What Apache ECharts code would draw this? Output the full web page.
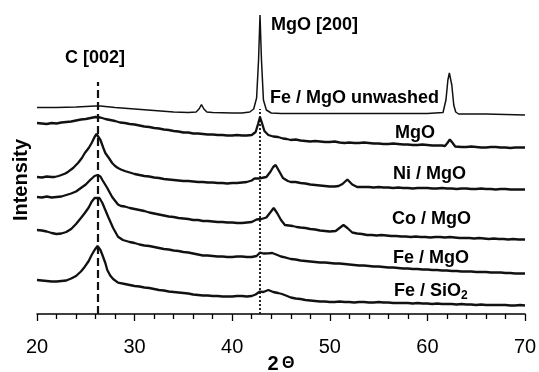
<!DOCTYPE html>
<html>
<head>
<meta charset="utf-8">
<script src="https://cdn.jsdelivr.net/npm/echarts@6/dist/echarts.min.js"></script>
<style>
html,body{margin:0;padding:0;background:#fff;}
#chart{width:539px;height:372px;}
</style>
</head>
<body>
<div id="chart"></div>
<script>
// X-ray diffraction patterns, 2θ (deg) vs stacked intensity (arbitrary units, offset)
const xTicks = [20, 30, 40, 50, 60, 70];
const seriesNames = ["Fe / MgO unwashed", "MgO", "Ni / MgO", "Co / MgO", "Fe / MgO", "Fe / SiO2"];
const refLines = { "C [002]": 26.2, "MgO [200]": 42.85 };

const feMgoUnwashed = [
  [20,206.5],[22,206.5],[24,207],[25,207.5],[26,208],[26.5,208],[27,207.5],[28,206.5],[30,205],
  [32,203.5],[34,202],[35.5,201.5],[36.3,202],[36.6,205],[36.85,209.3],[37.1,205],[37.4,202],
  [38,201.5],[40,201],[41,201],[41.8,202],[42.2,205],[42.5,216],[42.7,254],[42.85,299],[43.0,254],
  [43.2,214],[43.5,204],[44,201],[45,200.5],[50,200.5],[55,200.5],[60,200.5],[61.6,201.5],
  [61.9,214],[62.1,234],[62.25,241],[62.35,239],[62.5,229],[62.7,209],[62.9,202],[63.2,200],
  [66,200],[70,199]
];

const mgo = [
  [20,191],[20.5,190.5],[21,190],[21.5,191],[22,190.5],[22.5,191.5],[23,192],[23.5,192.5],[24,193.5],
  [24.5,194.5],[25,195],[25.5,196],[26,197],[26.5,196.5],[27,195],[27.5,194],[28,193],[28.5,191.5],
  [29,191],[29.5,190],[30,189.5],[30.5,188.5],[31,187.5],[31.5,187],[32,186],[32.5,185.5],[33,184.5],
  [33.5,184],[34,183],[34.5,182.5],[35,181.5],[35.5,181.5],[36,180.5],[36.5,180.5],[37,180],
  [37.5,179.5],[38,179.5],[38.5,179],[39,179],[39.5,178.5],[40,178.5],[40.5,179],[41,178.5],
  [41.5,178.5],[42,179],[42.4,182],[42.65,190],[42.85,197],[43.05,191],[43.3,183],[43.7,179],
  [44.2,177.5],[44.7,177],[45.2,175.5],[45.6,175],[46,174],[46.5,174.5],[47,173.5],[47.5,173],
  [48,172.5],[48.5,173],[49,172.5],[49.5,172],[50,172],[50.5,172.5],[51,171.5],[51.5,171],
  [52,171.5],[52.5,171],[53,171],[53.5,171.5],[54,171],[54.5,170.5],[55,170.5],[55.5,170],[56,170],
  [56.5,170.5],[57,170],[57.5,169.5],[58,169.5],[58.5,169],[59,169],[59.5,169.5],[60,169],
  [60.5,168.5],[61,168.5],[61.5,168.5],[61.8,168],[62.05,171],[62.3,174.5],[62.55,171.5],
  [62.85,167.5],[63.5,167],[64,167],[64.5,167.5],[65,167],[65.5,166.5],[66,166.5],[66.5,167],
  [67,167],[67.5,166.5],[68,166.5],[68.5,166],[69,166.5],[69.5,166.5],[70,166.5]
];

const niMgo = [
  [20,137],[20.5,136.5],[21,137.5],[21.5,137],[21.8,137],[22.2,138],[22.5,139],[22.9,140.5],
  [23.2,142.3],[23.7,146],[24.2,151],[24.6,156],[24.9,161],[25.3,166],[25.6,171],[25.9,177],
  [26.1,180],[26.3,178],[26.5,174],[26.8,166],[27,161],[27.4,155.5],[27.7,151],[28,148],[28.3,146],
  [28.6,144.5],[29,143],[29.5,141.5],[30,140],[30.5,139],[31,138],[31.5,137.5],[32,136.5],[32.5,136],
  [33,135],[33.5,134.5],[34,134],[34.5,133.5],[35,133],[35.5,133],[36,132.5],[36.5,132],[37,132],
  [37.5,131.5],[38,131.5],[38.5,131],[39,131],[39.5,130.5],[40,131],[40.5,131],[41,131.5],
  [41.5,132],[42,133.5],[42.3,135.7],[42.7,135.5],[43,136],[43.5,137],[43.9,142],[44.2,147],
  [44.45,149],[44.8,143],[45.2,136],[45.7,133],[46,132],[46.5,132],[47,131],[47.5,130.5],[48,129.5],
  [48.5,129],[49,128.5],[49.5,128],[50,127.5],[50.5,127.5],[50.9,128],[51.3,130],[51.8,134.5],
  [52.3,129.5],[52.8,127],[53.5,127],[54,127],[54.5,126.5],[55,127],[55.5,126.5],[56,126.5],
  [56.5,126],[57,126.5],[57.5,126],[58,126],[58.5,125.5],[59,126],[59.5,126],[60,126],[60.5,125.5],
  [61,125.5],[61.5,126],[62,125.5],[62.5,125.5],[63,125],[63.5,125.5],[64,125.5],[64.5,125],
  [65,125],[65.5,125.5],[66,125],[66.5,125],[67,124.5],[67.5,125],[68,125],[68.5,124.5],[69,124.5],
  [69.5,124.5],[70,124.5]
];

const coMgo = [
  [20,117],[20.5,116.5],[21,117.5],[21.5,116.5],[22,117],[22.5,117.5],[23,119],[23.5,120.5],
  [24,122.5],[24.5,126],[25,129.5],[25.5,134.5],[25.9,138],[26.2,139],[26.5,137.5],[26.7,134],
  [27.2,126],[27.7,117],[28.3,109.5],[28.6,108],[29,107.5],[29.5,106],[30,105],[30.5,104],[31,103],
  [31.5,101.5],[32,100.5],[32.5,99.5],[33,98.5],[33.5,97.5],[34,97],[34.5,96],[35,95.5],[35.5,95],
  [36,94],[36.5,94],[37,93],[37.5,93],[38,92.5],[38.5,92],[39,92],[39.5,91.5],[40,91.5],[40.5,91],
  [41,91],[41.5,91.5],[42,92],[42.5,94.5],[43,95],[43.5,96.5],[43.9,101.5],[44.25,106],[44.6,101],
  [45,94],[45.4,89],[45.8,88.5],[46.2,88],[46.6,87],[47,86.5],[47.5,86],[48,85],[48.5,84.5],
  [49,83.5],[49.5,83],[50,82.5],[50.6,83],[51.0,86],[51.4,89],[51.8,86],[52.3,81.5],[52.8,80.5],
  [53.3,80],[53.8,79],[54.3,79],[54.8,78.5],[55.3,79],[55.8,78.5],[56.3,78],[56.8,78],[57.3,77.5],
  [57.8,77.5],[58.3,77],[58.8,77.5],[59.3,77],[59.8,77],[60.3,76.5],[60.8,77],[61.3,77],[61.8,76.5],
  [62.3,77],[62.8,76.5],[63.3,76],[63.8,76],[64.3,76],[64.8,75.5],[65.3,76],[65.8,75.5],[66.3,75],
  [66.8,75.5],[67.3,75],[67.8,75],[68.3,74.5],[68.8,75],[69.3,74.5],[69.8,74.5],[70,74.5]
];

const feMgo = [
  [20,84],[20.5,83.5],[21,82.5],[21.5,81],[22,80],[22.5,80.5],[23,82],[23.5,85],[24,90],[24.5,96],
  [24.9,101],[25.3,106.5],[25.6,112.3],[25.9,116],[26.1,118],[26.4,116],[26.7,111],[27,104],
  [27.3,97],[27.8,86],[28.3,77.3],[28.8,74],[29.5,72],[30,71],[30.5,69.5],[31,68.5],[31.5,68],
  [32,67],[32.5,66],[33,65],[33.5,64.5],[34,63.5],[34.5,63],[35,62],[35.5,61.5],[36,60.5],
  [36.5,59.5],[37,58.5],[37.5,58.5],[38,58],[38.5,57.5],[39,57.5],[39.5,57],[40,57],[40.5,57.5],
  [41,57.5],[41.5,57],[42,57],[42.5,58],[42.85,61.3],[43.2,60.5],[43.7,60.7],[44.1,61],[44.5,59.5],
  [45,57.5],[45.4,56.7],[46,55],[46.5,54.5],[47,53.5],[47.5,53],[48,52.5],[48.5,52],[49,51.5],
  [49.5,51.5],[50,51],[50.5,50.5],[51,50.5],[51.5,50],[52,49.5],[52.5,49],[53,48.5],[53.5,48.5],
  [54,48],[54.5,47.5],[55,47.5],[55.5,47],[56,46.5],[56.5,46.5],[57,46],[57.5,45.5],[58,45.5],
  [58.5,45],[59,45],[59.5,44.5],[60,44.5],[60.5,44],[61,44],[61.5,43.5],[62,43.5],[62.5,43],
  [63,43],[63.5,42.5],[64,42.5],[64.5,42.5],[65,42],[65.5,42],[66,42],[66.5,41.5],[67,41.5],
  [67.5,41.5],[68,41],[68.5,41],[69,40.5],[69.5,40.5],[70,40.5]
];

const feSiO2 = [
  [20,34],[20.5,33.5],[21,33],[21.5,32.5],[22,32.5],[22.5,33],[23,33.5],[23.5,35.5],[24,38],
  [24.5,42.5],[24.9,47.3],[25.3,53],[25.6,59],[25.9,64],[26.2,68],[26.5,64],[26.7,59],[27,51],
  [27.2,44],[27.5,38.5],[27.8,35],[28.3,31.3],[29,30],[29.5,29],[30,28],[30.5,27.5],[31,26.5],
  [31.5,26],[32,25],[32.5,24],[33,23.5],[33.5,22.5],[34,22],[34.5,21.5],[35,21],[35.5,20.5],
  [36,19.5],[36.5,19],[37,18.5],[37.5,18.5],[38,18],[38.5,18],[39,17.5],[39.5,17.5],[40,17.5],
  [40.5,18],[41,18],[41.5,17.5],[42,18],[42.4,19.5],[42.8,22.3],[43.2,22],[43.7,24],[44.2,22],
  [44.7,21],[45.1,20],[45.5,18.5],[46,16.5],[46.5,15.5],[47,15],[47.5,14],[48,13.5],[48.5,13],
  [49,12.5],[49.5,12.5],[50,12],[50.5,12],[51,12.5],[51.5,12],[52,12],[52.5,11.5],[53,12],
  [53.5,12],[54,11.5],[54.5,11.5],[55,12],[55.5,11.5],[56,11.5],[56.5,11],[57,11],[57.5,11],
  [58,11],[58.5,10.5],[59,11],[59.5,10.5],[60,10.5],[60.5,10],[61,10.5],[61.5,10],[62,10],
  [62.5,10],[63,9.5],[63.5,10],[64,9.5],[64.5,9.5],[65,9],[65.5,9.5],[66,9],[66.5,9],[67,9],
  [67.5,9],[68,9],[68.5,8.5],[69,8.5],[69.5,9],[70,8.5]
];

const chart = echarts.init(document.getElementById('chart'), null, {renderer: 'canvas'});
const FONT = 'Liberation Sans, Arial, sans-serif';
const INK = '#111';

function line(name, data, width) {
  return {
    name: name, type: 'line', data: data, showSymbol: false, symbol: 'none',
    lineStyle: {color: INK, width: width}, animation: false, silent: true, z: 3
  };
}

const s = [
  line(seriesNames[0], feMgoUnwashed, 1.5),
  line(seriesNames[1], mgo, 2.3),
  line(seriesNames[2], niMgo, 2.3),
  line(seriesNames[3], coMgo, 2.3),
  line(seriesNames[4], feMgo, 2.3),
  line(seriesNames[5], feSiO2, 2.3)
];
s[0].markLine = {
  silent: true, symbol: ['none', 'none'], label: {show: false}, animation: false,
  data: [
    [{coord: [refLines["C [002]"], 0], lineStyle: {type: [8, 4], width: 2.2, color: INK}},
     {coord: [refLines["C [002]"], 232]}],
    [{coord: [refLines["MgO [200]"], 0], lineStyle: {type: [2, 2], width: 1.8, color: INK}},
     {coord: [refLines["MgO [200]"], 205]}]
  ]
};

const labelStyle = {fontFamily: FONT, fontWeight: 'bold', fontSize: 18, fill: '#000'};
function txt(text, x, y, extra) {
  return {type: 'text', x: x, y: y, style: Object.assign({text: text, textVerticalAlign: 'middle'}, labelStyle, extra || {})};
}

chart.setOption({
  animation: false,
  grid: {left: 37, right: 14, top: 0, bottom: 58, containLabel: false, outerBoundsMode: 'none'},
  xAxis: {
    type: 'value', min: xTicks[0], max: xTicks[xTicks.length - 1], interval: 10,
    axisLine: {lineStyle: {color: '#000', width: 1.5}},
    axisTick: {show: true, length: 7, lineStyle: {color: '#000', width: 1.3}},
    minorTick: {show: true, splitNumber: 5, length: 5, lineStyle: {color: '#000', width: 1.3}},
    splitLine: {show: false},
    axisLabel: {color: '#000', fontSize: 20, fontFamily: FONT, margin: 23}
  },
  yAxis: {
    type: 'value', min: 0, max: 314, show: false
  },
  series: s,
  graphic: [
    txt('C [002]', 65, 58),
    txt('MgO [200]', 271, 25),
    txt(seriesNames[0], 270, 98),
    txt('MgO', 395, 133),
    txt('Ni / MgO', 393, 174),
    txt('Co / MgO', 392, 219),
    txt('Fe / MgO', 393, 258.5),
    {type: 'text', x: 394, y: 291.5, style: {
      text: '{n|Fe / SiO}{s|2}', textVerticalAlign: 'middle',
      rich: {n: {fontFamily: FONT, fontWeight: 'bold', fontSize: 18, color: '#000'},
             s: {fontFamily: FONT, fontWeight: 'bold', fontSize: 12, color: '#000', padding: [8, 0, 0, 0]}}
    }},
    {type: 'text', x: 281, y: 364, style: {
      text: '{a|2} {b|Θ}', textAlign: 'center', textVerticalAlign: 'middle',
      rich: {a: {fontFamily: FONT, fontWeight: 'bold', fontSize: 20, color: '#000'},
             b: {fontFamily: FONT, fontWeight: 'bold', fontSize: 16, color: '#000'}}
    }},
    {type: 'text', x: 21, y: 180, rotation: Math.PI / 2,
     style: Object.assign({text: 'Intensity', textAlign: 'center', textVerticalAlign: 'middle'}, labelStyle, {fontSize: 20})}
  ]
});
</script>
</body>
</html>
